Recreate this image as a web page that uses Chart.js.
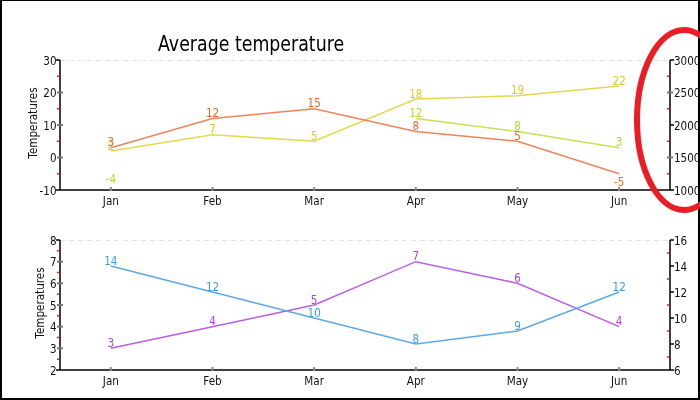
<!DOCTYPE html>
<html>
<head>
<meta charset="utf-8">
<script src="https://cdn.jsdelivr.net/npm/chart.js@4.4.0/dist/chart.umd.min.js"></script>
<style>
  html, body { margin:0; padding:0; background:#fff; }
  #wrap { position:relative; width:700px; height:400px; overflow:hidden; background:#fff; }
  #c1 { position:absolute; left:0; top:0; }
  #c2 { position:absolute; left:0; top:215px; }
  #frame { position:absolute; left:0; top:0; width:700px; height:400px; box-sizing:border-box;
           border-left:2px solid #000; border-right:2px solid #000; border-bottom:2px solid #000; border-top:1px solid #000; pointer-events:none; }
  #ov { position:absolute; left:0; top:0; pointer-events:none; }
</style>
</head>
<body>
<div id="wrap">
  <canvas id="c1" width="700" height="215" style="width:700px;height:215px"></canvas>
  <canvas id="c2" width="700" height="185" style="width:700px;height:185px"></canvas>
  <div id="frame"></div>
  <canvas id="ov" width="700" height="400" style="width:700px;height:400px"></canvas>
</div>
<script>
// ---------- DATA ----------
const months = ['Jan', 'Feb', 'Mar', 'Apr', 'May', 'Jun'];
const chartTitle = 'Average temperature';
const axisTitle = 'Temperatures';

// top panel
const seriesOrange = [3, 12, 15, 8, 5, -5];
const seriesYellow = [2, 7, 5, 18, 19, 22];
const seriesLime   = [-4, null, null, 12, 8, 3];
const topLeftTicks  = [-10, 0, 10, 20, 30];
const topRightTicks = [1000, 1500, 2000, 2500, 3000];

// bottom panel
const seriesBlue   = [14, 12, 10, 8, 9, 12];   // right axis
const seriesPurple = [3, 4, 5, 7, 6, 4];       // left axis
const botLeftTicks  = [2, 3, 4, 5, 6, 7, 8];
const botRightTicks = [6, 8, 10, 12, 14, 16];

// ---------- STYLE ----------
const FONT = '"DejaVu Sans", sans-serif';
const SX = 0.8;          // horizontal compression to mimic a condensed face
Chart.defaults.font.family = FONT;
Chart.defaults.font.size = 13;
Chart.defaults.color = '#111';
Chart.defaults.animation = false;

function line(ctx, x1, y1, x2, y2) { ctx.beginPath(); ctx.moveTo(x1, y1); ctx.lineTo(x2, y2); ctx.stroke(); }
function txt(ctx, s, x, y, align, sx) {
  ctx.save(); ctx.translate(x, y); ctx.scale(sx, 1);
  ctx.textAlign = align; ctx.fillText(s, 0, 0); ctx.restore();
}

const deco = {
  id: 'deco',
  beforeDatasetsDraw(chart) {
    const ctx = chart.ctx, a = chart.chartArea;
    ctx.save();
    ctx.strokeStyle = '#e2e2e2'; ctx.lineWidth = 1; ctx.setLineDash([5, 4]);
    line(ctx, a.left, a.top + 0.5, a.right, a.top + 0.5);
    ctx.restore();
  },
  afterDatasetsDraw(chart, args, o) {
    const ctx = chart.ctx, a = chart.chartArea;
    ctx.save();
    // axis lines
    ctx.strokeStyle = '#000'; ctx.lineWidth = 1.5;
    line(ctx, a.left, a.top, a.left, a.bottom);
    line(ctx, a.right, a.top, a.right, a.bottom);
    line(ctx, a.left, a.bottom, a.right, a.bottom);
    // y ticks + labels
    for (const cfg of o.yTicks) {
      const s = chart.scales[cfg.id];
      const x = cfg.side === 'left' ? a.left : a.right;
      const out = cfg.side === 'left' ? -1 : 1;
      const vals = cfg.values;
      ctx.strokeStyle = '#e02020'; ctx.lineWidth = 1.5;
      for (let i = 0; i < vals.length - 1; i++) {
        const y = s.getPixelForValue((vals[i] + vals[i + 1]) / 2);
        line(ctx, x - 3, y, x - 0.5, y);
      }
      for (const v of vals) {
        const y = s.getPixelForValue(v);
        if (cfg.black.includes(v)) {
          ctx.strokeStyle = '#000'; ctx.lineWidth = 1.5;
          line(ctx, x, y, x + out * 4, y);
        } else {
          ctx.strokeStyle = '#777'; ctx.lineWidth = 2;
          line(ctx, x - 3, y, x + 3, y);
        }
        ctx.fillStyle = '#111';
        ctx.font = '13px ' + FONT; ctx.textBaseline = 'alphabetic';
        if (cfg.side === 'left') txt(ctx, String(v), x - 3.5, y + 4.8, 'right', SX);
        else txt(ctx, String(v), x + 4, y + 4.8, 'left', SX);
      }
    }
    // x ticks + labels
    const xs = chart.scales.x;
    for (let i = 0; i < months.length; i++) {
      const px = xs.getPixelForValue(i);
      ctx.strokeStyle = '#888'; ctx.lineWidth = 2;
      line(ctx, px, a.bottom - 3, px, a.bottom + 1);
      ctx.fillStyle = '#111'; ctx.font = '13px ' + FONT; ctx.textBaseline = 'alphabetic';
      txt(ctx, months[i], px, a.bottom + 15, 'center', SX);
    }
    // axis title
    ctx.fillStyle = '#111';
    ctx.font = '13px ' + FONT;
    ctx.textBaseline = 'middle';
    ctx.save();
    ctx.translate(o.axisTitleX, (a.top + a.bottom) / 2 - 2);
    ctx.rotate(-Math.PI / 2);
    ctx.scale(SX, 1);
    ctx.textAlign = 'center';
    ctx.fillText(axisTitle, 0, 0);
    ctx.restore();
    // chart title
    if (o.title) {
      ctx.font = '22px ' + FONT;
      ctx.textBaseline = 'alphabetic';
      ctx.fillStyle = '#000';
      txt(ctx, o.title, 158, 51, 'left', 0.79);
    }
    // data labels (reverse order so first dataset on top)
    ctx.font = '13px ' + FONT;
    ctx.textBaseline = 'alphabetic';
    for (let d = chart.data.datasets.length - 1; d >= 0; d--) {
      const ds = chart.data.datasets[d];
      const meta = chart.getDatasetMeta(d);
      ctx.fillStyle = ds.labelColor;
      meta.data.forEach((pt, i) => {
        const v = ds.data[i];
        if (v === null || v === undefined) return;
        const y = v < 0 ? pt.y + 12 : pt.y - 1.5;
        txt(ctx, String(v), pt.x, y, 'center', SX);
      });
    }
    ctx.restore();
  }
};

function ds(label, data, color, labelColor, axis) {
  return { label, data, borderColor: color, labelColor, yAxisID: axis,
           borderWidth: 1.5, pointRadius: 0, tension: 0, spanGaps: false, fill: false };
}

const yBase = (min, max, side, width) => ({
  type: 'linear', position: side, min, max,
  grid: { display: false }, border: { display: false },
  ticks: { display: false },
  afterFit: s => { s.width = width; }
});
const xBase = (h) => ({
  type: 'category', offset: true, grid: { display: false }, border: { display: false },
  ticks: { display: false },
  afterFit: s => { s.height = h; }
});

new Chart(document.getElementById('c1'), {
  type: 'line',
  data: {
    labels: months,
    datasets: [
      ds('Orange', seriesOrange, '#f0825c', '#e8662e', 'y'),
      ds('Yellow', seriesYellow, '#e6d84c', '#dccb22', 'y'),
      ds('Lime', seriesLime, '#cbe052', '#b6d430', 'y')
    ]
  },
  options: {
    responsive: false,
    layout: { padding: { top: 60, left: 0, right: 0, bottom: 0 } },
    plugins: {
      legend: { display: false }, tooltip: { enabled: false },
      deco: {
        title: chartTitle, axisTitleX: 34,
        yTicks: [
          { id: 'y', side: 'left', values: topLeftTicks, black: [-10, 30] },
          { id: 'y1', side: 'right', values: topRightTicks, black: [1000, 2000, 3000] }
        ]
      }
    },
    scales: {
      x: xBase(25),
      y: yBase(-10, 30, 'left', 60),
      y1: yBase(1000, 3000, 'right', 30)
    }
  },
  plugins: [deco]
});

new Chart(document.getElementById('c2'), {
  type: 'line',
  data: {
    labels: months,
    datasets: [
      ds('Blue', seriesBlue, '#5aaae8', '#3c9ade', 'y1'),
      ds('Purple', seriesPurple, '#ba5ee8', '#a843dc', 'y')
    ]
  },
  options: {
    responsive: false,
    layout: { padding: { top: 25, left: 0, right: 0, bottom: 0 } },
    plugins: {
      legend: { display: false }, tooltip: { enabled: false },
      deco: {
        title: null, axisTitleX: 41,
        yTicks: [
          { id: 'y', side: 'left', values: botLeftTicks, black: [2, 8] },
          { id: 'y1', side: 'right', values: botRightTicks, black: botRightTicks }
        ]
      }
    },
    scales: {
      x: xBase(30),
      y: yBase(2, 8, 'left', 60),
      y1: yBase(6, 16, 'right', 30)
    }
  },
  plugins: [deco]
});

// red hand-drawn ellipse annotation
const ov = document.getElementById('ov').getContext('2d');
ov.strokeStyle = '#ec1c24';
ov.lineWidth = 6;
ov.beginPath();
ov.ellipse(684, 120, 47, 90, 0, 0, Math.PI * 2);
ov.stroke();
</script>
</body>
</html>
